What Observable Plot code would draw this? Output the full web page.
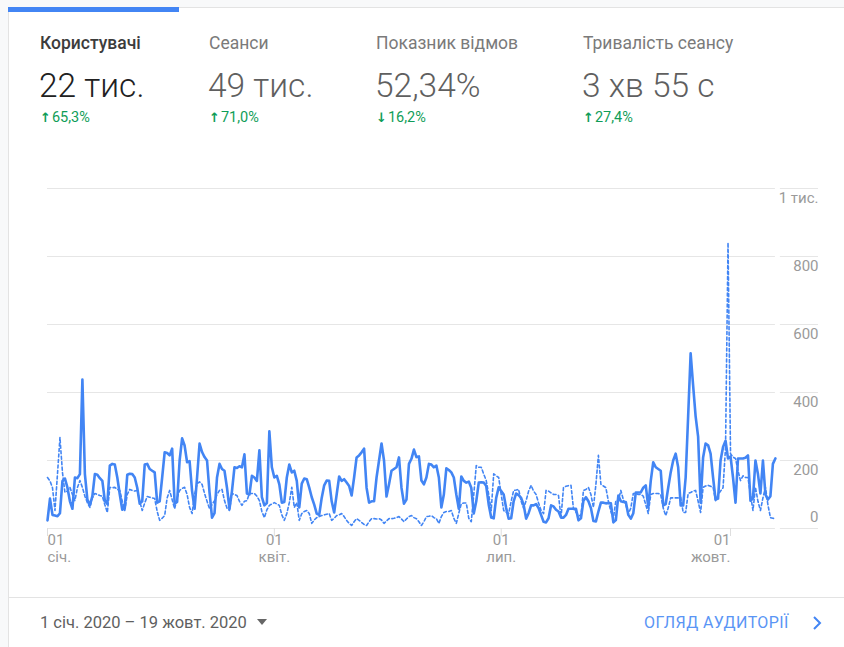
<!DOCTYPE html>
<html><head><meta charset="utf-8">
<script src="https://cdn.jsdelivr.net/npm/d3@7"></script>
<script src="https://cdn.jsdelivr.net/npm/@observablehq/plot@0.6"></script>
<style>
html,body{margin:0;padding:0;}
body{width:844px;height:647px;overflow:hidden;background:#f8f9fa;font-family:Roboto,"Noto Sans",sans-serif;position:relative;}
.abs{position:absolute;white-space:nowrap;line-height:1;}
</style>
</head><body>
<div class="abs" style="left:8px;top:7px;width:900px;height:700px;background:#fff;border-left:1px solid #e3e3e3;border-top:1px solid #e3e3e3;"></div>
<div class="abs" style="left:8px;top:7px;width:171px;height:5px;background:#4285f4;"></div>
<div id="metrics"></div>
<div id="chart" class="abs" style="left:0;top:170px;"></div>
<div class="abs" style="left:9px;top:597px;width:840px;height:1px;background:#e3e3e3;"></div>
<div id="footer"></div>
<script>
// ---- data ----
const metricLabels = ["Користувачі", "Сеанси", "Показник відмов", "Тривалість сеансу"];
const metricValues = ["22 тис.", "49 тис.", "52,34%", "3 хв 55 с"];
const metricChanges = ["65,3%", "71,0%", "16,2%", "27,4%"];
const metricUp = [true, true, false, true];

const startDate = "2020-01-01";
// daily users, 1 Jan 2020 – 19 Oct 2020 (current period, solid)
const users = [
 24, 88, 40, 38, 36, 45, 140, 147, 120, 80,
 58, 150, 148, 160, 438, 160, 85, 68, 95, 160,
 158, 148, 140, 82, 72, 185, 190, 188, 150, 100,
 55, 60, 158, 161, 160, 150, 120, 73, 80, 188,
 190, 175, 170, 165, 76, 80, 150, 224, 222, 215,
 235, 73, 78, 200, 265, 244, 195, 198, 110, 58,
 150, 250, 225, 210, 200, 106, 32, 45, 150, 190,
 175, 170, 120, 58, 110, 180, 178, 183, 180, 218,
 103, 100, 155, 150, 140, 230, 92, 68, 75, 286,
 180, 150, 155, 130, 76, 78, 150, 188, 165, 170,
 140, 62, 132, 147, 145, 120, 92, 70, 44, 40,
 90, 127, 141, 140, 80, 47, 100, 153, 140, 145,
 135, 125, 97, 150, 209, 215, 224, 235, 120, 76,
 80, 80, 150, 200, 250, 200, 94, 130, 170, 175,
 180, 209, 120, 73, 85, 190, 205, 232, 210, 212,
 141, 130, 150, 190, 188, 180, 185, 150, 62, 100,
 177, 172, 165, 150, 100, 58, 153, 140, 135, 138,
 120, 44, 80, 135, 136, 135, 125, 70, 32, 30,
 90, 121, 110, 100, 60, 29, 30, 80, 103, 98,
 90, 70, 29, 45, 68, 68, 72, 60, 40, 20,
 18, 30, 68, 65, 55, 50, 32, 32, 40, 58,
 58, 58, 58, 24, 30, 82, 92, 80, 60, 22,
 21, 50, 76, 76, 74, 75, 74, 18, 25, 97,
 80, 78, 78, 40, 29, 45, 106, 106, 106, 120,
 127, 62, 140, 195, 180, 175, 170, 68, 72, 120,
 165, 200, 220, 180, 68, 68, 150, 330, 515, 420,
 330, 270, 76, 209, 250, 245, 220, 150, 85, 88,
 200, 240, 258, 206, 212, 150, 76, 206, 206, 206,
 208, 215, 82, 88, 200, 160, 103, 200, 100, 85,
 95, 190, 206
];
// previous period (dashed)
const usersPrev = [
 150, 140, 120, 53, 160, 268, 165, 106, 110, 121,
 100, 82, 120, 141, 121, 95, 76, 62, 90, 103,
 100, 97, 95, 70, 47, 121, 120, 121, 115, 112,
 80, 53, 100, 115, 112, 110, 112, 80, 53, 75,
 94, 92, 90, 88, 50, 24, 30, 38, 90, 112,
 85, 58, 90, 112, 118, 121, 100, 62, 44, 100,
 132, 137, 130, 103, 80, 58, 70, 82, 100, 112,
 115, 82, 60, 53, 103, 100, 97, 80, 68, 80,
 82, 103, 103, 103, 95, 82, 50, 32, 55, 68,
 72, 76, 72, 68, 40, 24, 44, 76, 121, 62,
 76, 24, 44, 50, 53, 44, 15, 25, 32, 35,
 38, 40, 42, 44, 24, 30, 38, 40, 44, 35,
 24, 15, 9, 20, 29, 24, 18, 12, 9, 20,
 29, 29, 28, 29, 25, 15, 22, 29, 29, 30,
 32, 35, 28, 20, 28, 35, 38, 32, 29, 20,
 9, 20, 35, 36, 38, 32, 29, 15, 35, 47,
 50, 50, 53, 30, 15, 45, 73, 75, 75, 30,
 20, 100, 185, 180, 180, 160, 141, 100, 53, 161,
 155, 150, 100, 53, 48, 44, 80, 112, 113, 115,
 80, 60, 82, 110, 127, 110, 100, 75, 53, 44,
 112, 110, 105, 100, 100, 97, 32, 121, 124, 126,
 127, 58, 48, 38, 38, 112, 115, 121, 100, 62,
 130, 215, 130, 125, 120, 80, 50, 29, 82, 82,
 112, 85, 70, 44, 60, 103, 103, 100, 100, 95,
 70, 44, 100, 103, 103, 103, 100, 60, 38, 60,
 90, 90, 90, 90, 92, 47, 47, 103, 106, 110,
 112, 80, 47, 121, 125, 127, 124, 121, 82, 100,
 110, 120, 238, 841, 220, 210, 206, 170, 141, 155,
 150, 150, 100, 53, 121, 80, 53, 90, 121, 70,
 32, 30, 29
];
const xTickDates = ["2020-01-01", "2020-04-01", "2020-07-01", "2020-10-01"];
const xTickDays = ["01", "01", "01", "01"];
const xTickMonths = ["січ.", "квіт.", "лип.", "жовт."];
const yTicks = [0, 200, 400, 600, 800, 1000];
const yTickLabels = ["0", "200", "400", "600", "800", "1 тис."];
const dateRangeText = "1 січ. 2020 – 19 жовт. 2020";
const linkText = "ОГЛЯД АУДИТОРІЇ";

// ---- header ----
const mx = [40, 209, 376, 583];
const metrics = document.getElementById("metrics");
metricLabels.forEach((lab, i) => {
  const a = document.createElement("div");
  a.className = "abs";
  a.style.cssText = `left:${mx[i]}px;top:35px;font-size:17.5px;font-weight:${i===0?500:400};color:${i===0?"#3c3c3c":"#7a7a7a"};`;
  a.textContent = lab;
  metrics.appendChild(a);
  const v = document.createElement("div");
  v.className = "abs";
  v.style.cssText = `left:${mx[i]-1}px;top:68.5px;font-size:33.5px;font-weight:300;color:${i===0?"#212121":"#5f5f5f"};`;
  v.textContent = metricValues[i];
  metrics.appendChild(v);
  const c = document.createElement("div");
  c.className = "abs";
  c.style.cssText = `left:${mx[i]}px;top:111px;font-size:14.5px;color:#0f9d58;`;
  c.innerHTML = `<span style="font-family:'DejaVu Sans';font-size:13px;font-weight:bold;margin-right:1px">${metricUp[i]?"↑":"↓"}</span>${metricChanges[i]}`;
  metrics.appendChild(c);
});

// ---- chart ----
const day0 = d3.utcParse("%Y-%m-%d")(startDate);
const series = (arr, s) => arr.map((v, i) => ({date: d3.utcDay.offset(day0, i), v, s}));
const cur = series(users, "cur");
const prev = series(usersPrev, "prev");
const lastDate = cur[cur.length - 1].date;
const xEnd = new Date(Date.UTC(2020, 10, 5, 7));
const gapStart = d3.utcDay.offset(lastDate, 2);
const tickDates = xTickDates.map(d3.utcParse("%Y-%m-%d"));
const tickAnchors = ["start", "middle", "middle", "end"];
const axisFont = 15;

const chart = Plot.plot({
  width: 844, height: 400,
  marginLeft: 47, marginRight: 26, marginTop: 18, marginBottom: 42,
  style: {fontFamily: "Roboto", background: "transparent", overflow: "visible"},
  x: {type: "utc", domain: [day0, xEnd]},
  y: {domain: [0, 1000], axis: null},
  marks: [
    Plot.ruleY(yTicks, {y: d => d, x1: () => day0, x2: () => lastDate, stroke: "#e6e6e6", strokeWidth: 1}),
    Plot.ruleY(yTicks, {y: d => d, x1: () => gapStart, x2: () => xEnd, stroke: "#e6e6e6", strokeWidth: 1}),
    Plot.axisX(tickDates, {tickFormat: () => "", tickSize: 8, stroke: "#dedede", label: null}),
    ...tickDates.map((d, i) => Plot.text([d], {x: t => t, text: () => xTickDays[i] + "\n" + xTickMonths[i],
      frameAnchor: "bottom", lineAnchor: "top", textAnchor: tickAnchors[i], dy: 5, lineHeight: 1.12,
      fill: "#9a9a9a", fontSize: axisFont})),
    Plot.text(yTicks.slice(1), {y: d => d, text: (d, i) => yTickLabels[i + 1], frameAnchor: "right", textAnchor: "end",
      lineAnchor: "top", dy: 3.5, fill: "#9a9a9a", fontSize: axisFont}),
    Plot.text(yTicks.slice(0, 1), {y: d => d, text: () => yTickLabels[0], frameAnchor: "right", textAnchor: "end",
      lineAnchor: "bottom", dy: -6.5, fill: "#9a9a9a", fontSize: axisFont}),
    Plot.line(prev, {x: "date", y: "v", stroke: "#4285f4", strokeWidth: 1.6, strokeDasharray: "3,2.5", strokeLinejoin: "round"}),
    Plot.line(cur, {x: "date", y: "v", stroke: "#4285f4", strokeWidth: 2.6, strokeLinejoin: "round"})
  ]
});
document.getElementById("chart").appendChild(chart);

// ---- footer ----
const footer = document.getElementById("footer");
const dr = document.createElement("div");
dr.className = "abs";
dr.style.cssText = "left:40px;top:614.5px;font-size:16.5px;color:#5f5f5f;";
dr.innerHTML = dateRangeText + `<span style="display:inline-block;margin-left:10px;vertical-align:3px;width:0;height:0;border-left:5px solid transparent;border-right:5px solid transparent;border-top:6px solid #666;"></span>`;
footer.appendChild(dr);
const lk = document.createElement("div");
lk.className = "abs";
lk.style.cssText = "left:644px;top:615px;font-size:16px;color:#5a95f5;letter-spacing:0.4px;";
lk.textContent = linkText;
footer.appendChild(lk);
const ch = document.createElement("div");
ch.className = "abs";
ch.style.cssText = "left:811px;top:615px;";
ch.innerHTML = `<svg width="12" height="16"><path d="M3 2 L9 8 L3 14" fill="none" stroke="#4285f4" stroke-width="2"/></svg>`;
footer.appendChild(ch);
</script>
</body></html>
